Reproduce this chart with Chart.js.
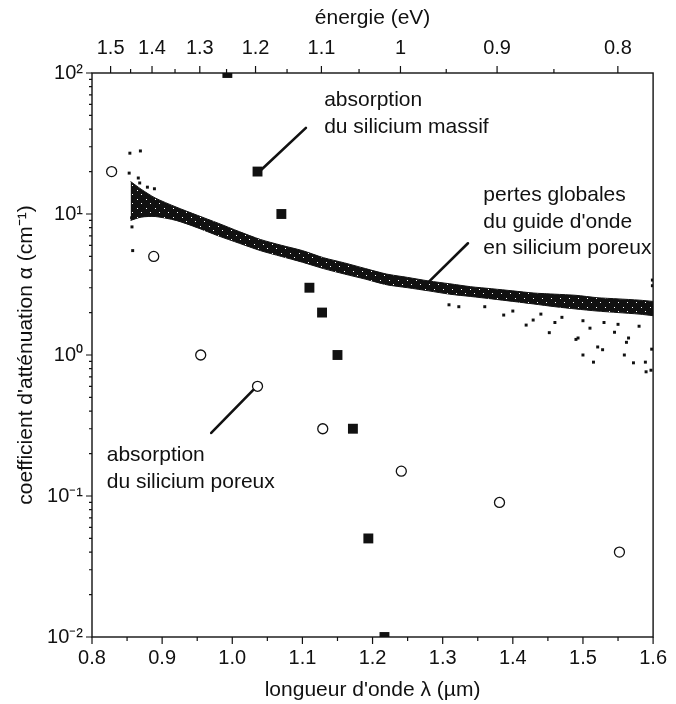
<!DOCTYPE html>
<html>
<head>
<meta charset="utf-8">
<script src="https://cdn.jsdelivr.net/npm/chart.js@4.4.1/dist/chart.umd.min.js"></script>
<style>
  html, body { margin: 0; padding: 0; background: #fff; }
</style>
</head>
<body>
<canvas id="chart" width="676" height="704"></canvas>
<script>
// absorption du silicium massif (carrés pleins)
const massifLambda = [0.993, 1.036, 1.070, 1.110, 1.128, 1.150, 1.172, 1.194, 1.217];
const massifAlpha = [100, 20, 10, 3, 2, 1, 0.3, 0.05, 0.01];

// absorption du silicium poreux (cercles)
const poreuxLambda = [0.828, 0.888, 0.955, 1.036, 1.129, 1.241, 1.381, 1.552];
const poreuxAlpha = [20, 5, 1, 0.6, 0.3, 0.15, 0.09, 0.04];

// pertes globales du guide : bords haut et bas de la bande de points
const guideLambda = [0.855, 0.87, 0.89, 0.92, 0.95, 0.98, 1.01, 1.04, 1.07, 1.10, 1.13, 1.16, 1.19,
  1.22, 1.25, 1.28, 1.31, 1.34, 1.37, 1.40, 1.43, 1.46, 1.49, 1.52, 1.55, 1.58, 1.60];
const guideHaut = [17, 15, 13, 11.2, 9.8, 8.6, 7.5, 6.6, 6.0, 5.5, 4.9, 4.5, 4.1,
  3.75, 3.55, 3.35, 3.2, 3.05, 2.95, 2.85, 2.75, 2.7, 2.65, 2.55, 2.5, 2.45, 2.4];
const guideBas = [9.0, 9.5, 9.6, 9.0, 8.0, 7.0, 6.2, 5.5, 5.0, 4.55, 4.1, 3.75, 3.45,
  3.15, 3.0, 2.85, 2.7, 2.6, 2.5, 2.4, 2.3, 2.2, 2.12, 2.05, 2.0, 1.95, 1.9];

// points isolés autour de la bande
const dispLambda = [0.854, 0.869, 0.853, 0.866, 0.879, 0.889, 0.857, 0.858, 0.8565, 0.868,
  1.309, 1.323, 1.36, 1.387, 1.40, 1.419, 1.429, 1.44, 1.452, 1.46, 1.47, 1.490, 1.493, 1.50,
  1.500, 1.51, 1.515, 1.521, 1.528, 1.53, 1.545, 1.55, 1.559, 1.562, 1.565, 1.572, 1.58,
  1.589, 1.590, 1.598, 1.599, 1.599, 1.597];
const dispAlpha = [27, 28, 19.5, 18, 15.5, 15.1, 8.1, 5.5, 9.4, 16.6,
  2.27, 2.2, 2.2, 1.92, 2.05, 1.63, 1.77, 1.95, 1.44, 1.7, 1.85, 1.29, 1.32, 1.75,
  1.0, 1.55, 0.89, 1.14, 1.09, 1.7, 1.45, 1.65, 1.0, 1.23, 1.32, 0.88, 1.6,
  0.89, 0.76, 1.1, 3.4, 3.1, 0.78];

const xTicks = [0.8, 0.9, 1.0, 1.1, 1.2, 1.3, 1.4, 1.5, 1.6];
const xMinor = [0.85, 0.95, 1.05, 1.15, 1.25, 1.35, 1.45, 1.55];
const energieTicks = [1.5, 1.4, 1.3, 1.2, 1.1, 1, 0.9, 0.8];
const energieLabels = ['1.5', '1.4', '1.3', '1.2', '1.1', '1', '0.9', '0.8'];
const energieMinor = [1.45, 1.35, 1.25, 1.15, 1.05, 0.95, 0.85];
const yTicks = [0.01, 0.1, 1, 10, 100];
const yLabels = ['10\u207B\u00B2', '10\u207B\u00B9', '10\u2070', '10\u00B9', '10\u00B2'];

const HC = 1.2398; // eV·µm

const pts = (xs, ys) => xs.map((x, i) => ({ x: x, y: ys[i] }));

const FONT = '"Liberation Sans", Arial, Helvetica, sans-serif';
const INK = '#111';

// motif moucheté pour la bande de mesures
function moucheture() {
  const c = document.createElement('canvas');
  c.width = 9; c.height = 9;
  const g = c.getContext('2d');
  g.fillStyle = INK;
  g.fillRect(0, 0, 9, 9);
  g.fillStyle = '#fff';
  g.fillRect(2, 1, 1, 1);
  g.fillRect(6, 5, 1, 1);
  return g.createPattern(c, 'repeat');
}

const notes = [
  { lines: ['absorption', 'du silicium massif'], x: 1.131, y: [64.4, 41.4] },
  { lines: ['pertes globales', "du guide d'onde", 'en silicium poreux'], x: 1.358, y: [13.6, 8.8, 5.75] },
  { lines: ['absorption', 'du silicium poreux'], x: 0.821, y: [0.195, 0.1256] }
];
const pointers = [
  [[1.041, 20.5], [1.105, 40.8]],
  [[1.336, 6.2], [1.274, 3.08]],
  [[0.970, 0.28], [1.030, 0.565]]
];

const cadre = {
  id: 'cadre',
  afterDraw(chart) {
    const { ctx, chartArea: a, scales } = chart;
    const sx = scales.x, sy = scales.y;
    ctx.save();
    ctx.strokeStyle = INK;
    ctx.lineWidth = 1.4;
    ctx.strokeRect(a.left, a.top, a.right - a.left, a.bottom - a.top);

    ctx.lineWidth = 1.2;
    ctx.beginPath();
    xTicks.forEach(v => { const p = sx.getPixelForValue(v); ctx.moveTo(p, a.bottom); ctx.lineTo(p, a.bottom + 7); });
    xMinor.forEach(v => { const p = sx.getPixelForValue(v); ctx.moveTo(p, a.bottom); ctx.lineTo(p, a.bottom + 4); });
    energieTicks.forEach(e => { const p = sx.getPixelForValue(HC / e); ctx.moveTo(p, a.top); ctx.lineTo(p, a.top - 7); });
    energieMinor.forEach(e => { const p = sx.getPixelForValue(HC / e); ctx.moveTo(p, a.top); ctx.lineTo(p, a.top - 4); });
    yTicks.forEach(v => { const p = sy.getPixelForValue(v); ctx.moveTo(a.left, p); ctx.lineTo(a.left - 6, p); });
    for (let d = 0; d < yTicks.length - 1; d++) {
      for (let k = 2; k <= 9; k++) {
        const p = sy.getPixelForValue(yTicks[d] * k);
        ctx.moveTo(a.left, p); ctx.lineTo(a.left - 3, p);
      }
    }
    ctx.stroke();

    ctx.lineWidth = 2.6;
    ctx.lineCap = 'round';
    pointers.forEach(seg => {
      ctx.beginPath();
      ctx.moveTo(sx.getPixelForValue(seg[0][0]), sy.getPixelForValue(seg[0][1]));
      ctx.lineTo(sx.getPixelForValue(seg[1][0]), sy.getPixelForValue(seg[1][1]));
      ctx.stroke();
    });

    ctx.fillStyle = INK;
    ctx.font = '21px ' + FONT;
    ctx.textAlign = 'left';
    ctx.textBaseline = 'middle';
    notes.forEach(n => {
      n.lines.forEach((t, i) => ctx.fillText(t, sx.getPixelForValue(n.x), sy.getPixelForValue(n.y[i])));
    });
    ctx.restore();
  }
};

new Chart(document.getElementById('chart'), {
  type: 'line',
  data: {
    datasets: [
      {
        label: 'silicium massif',
        data: pts(massifLambda, massifAlpha),
        showLine: false,
        pointStyle: 'rect',
        pointRadius: 7,
        backgroundColor: INK,
        borderColor: INK,
        borderWidth: 0,
        clip: 0
      },
      {
        label: 'silicium poreux',
        data: pts(poreuxLambda, poreuxAlpha),
        showLine: false,
        pointStyle: 'circle',
        pointRadius: 5,
        backgroundColor: '#fff',
        borderColor: INK,
        borderWidth: 1.3
      },
      {
        label: 'dispersion',
        data: pts(dispLambda, dispAlpha),
        showLine: false,
        pointStyle: 'rect',
        pointRadius: 2.1,
        backgroundColor: INK,
        borderWidth: 0
      },
      {
        label: 'guide haut',
        data: pts(guideLambda, guideHaut),
        showLine: true,
        pointRadius: 0,
        borderColor: INK,
        borderWidth: 1,
        backgroundColor: moucheture(),
        tension: 0.25,
        fill: '+1'
      },
      {
        label: 'guide bas',
        data: pts(guideLambda, guideBas),
        showLine: true,
        pointRadius: 0,
        borderColor: INK,
        borderWidth: 1,
        tension: 0.25,
        fill: false
      }
    ]
  },
  options: {
    responsive: false,
    animation: false,
    layout: { padding: { left: 0, right: 18, top: 0, bottom: 0 } },
    plugins: { legend: { display: false }, tooltip: { enabled: false } },
    scales: {
      x: {
        type: 'linear',
        position: 'bottom',
        min: 0.8,
        max: 1.6,
        grid: { display: false, drawTicks: false },
        border: { display: false },
        afterBuildTicks: s => { s.ticks = xTicks.map(v => ({ value: v })); },
        afterFit: s => { s.height = 67; },
        ticks: {
          autoSkip: false,
          maxRotation: 0,
          padding: 9,
          color: INK,
          font: { family: FONT, size: 20 },
          callback: v => Number(v).toFixed(1)
        },
        title: {
          display: true,
          text: "longueur d'onde \u03BB (\u00B5m)",
          color: INK,
          font: { family: FONT, size: 21 },
          padding: { top: 0, bottom: 1 }
        }
      },
      xTop: {
        type: 'linear',
        position: 'top',
        min: 0.8,
        max: 1.6,
        grid: { display: false, drawTicks: false },
        border: { display: false },
        afterBuildTicks: s => { s.ticks = energieTicks.map(e => ({ value: HC / e })); },
        afterFit: s => { s.height = 73; },
        ticks: {
          autoSkip: false,
          maxRotation: 0,
          padding: 13,
          color: INK,
          font: { family: FONT, size: 20 },
          callback: (v, i) => energieLabels[i]
        },
        title: {
          display: true,
          text: '\u00E9nergie (eV)',
          color: INK,
          font: { family: FONT, size: 21 },
          padding: { top: 6, bottom: 0 }
        }
      },
      y: {
        type: 'logarithmic',
        position: 'left',
        min: 0.01,
        max: 100,
        grid: { display: false, drawTicks: false },
        border: { display: false },
        afterBuildTicks: s => { s.ticks = yTicks.map(v => ({ value: v, major: true })); },
        afterFit: s => { s.width = 92; },
        ticks: {
          autoSkip: false,
          padding: 9,
          color: INK,
          font: { family: FONT, size: 20 },
          callback: (v, i) => yLabels[i]
        },
        title: {
          display: true,
          text: "coefficient d'att\u00E9nuation \u03B1 (cm\u207B\u00B9)",
          color: INK,
          font: { family: FONT, size: 21 },
          padding: { top: 14, bottom: 0 }
        }
      }
    }
  },
  plugins: [cadre]
});
</script>
</body>
</html>
